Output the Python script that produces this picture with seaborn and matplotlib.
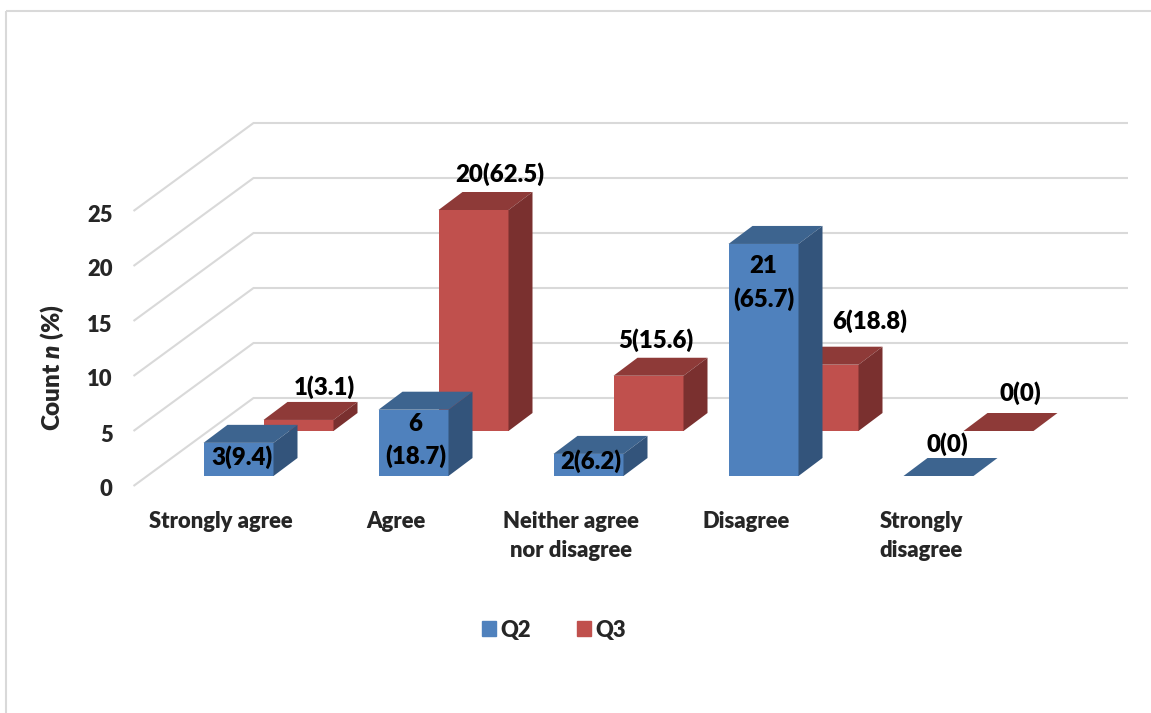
import matplotlib
matplotlib.use('agg')
import matplotlib.pyplot as plt
import numpy as np
import pandas as pd
import seaborn as sns
from matplotlib.patches import Patch, Polygon, Rectangle
from matplotlib.transforms import IdentityTransform, ScaledTranslation

categories = ['Strongly agree', 'Agree', 'Neither agree\nnor disagree', 'Disagree', 'Strongly\ndisagree']
q2_values = [3, 6, 2, 21, 0]
q3_values = [1, 20, 5, 6, 0]
q2_labels = ['3(9.4)', '6\n(18.7)', '2(6.2)', '21\n(65.7)', '0(0)']
q3_labels = ['1(3.1)', '20(62.5)', '5(15.6)', '6(18.8)', '0(0)']
y_ticks = [0, 5, 10, 15, 20, 25]

# label offsets from the top of each bar, pixels
q2_offsets = [(3, -14), (2, -31), (2, -7), (0, -39), (9, 32)]
q3_offsets = [(26, 33), (26, 36), (7, 36), (46, 44), (22, 38)]

W, H = 1151, 713
DEPTH = (24, 18)       # bar depth on screen
WALL = (120, 88)       # floor depth on screen
GRID = '#d9d9d9'
BLUE = {'front': '#4f81bd', 'top': '#3d648f', 'side': '#33547b'}
RED = {'front': '#c0504d', 'top': '#8e3a38', 'side': '#7a302f'}
WEIGHT = 800

sns.set_style('white')
plt.rcParams['font.family'] = ['Lato', 'DejaVu Sans']
plt.rcParams['font.weight'] = WEIGHT
plt.rcParams['mathtext.fontset'] = 'custom'
plt.rcParams['mathtext.bf'] = 'Lato:bold'
plt.rcParams['mathtext.bfit'] = 'Lato:italic:heavy'

FONT = 15.8
LABEL_FONT = 17.3


def px_axes(fig, left, bottom, width, height):
    return fig.add_axes([left / W, 1 - bottom / H, width / W, height / H])


def draw_bars(ax, df, series, colors, labels, offsets):
    sns.barplot(data=df[df.series == series], x='category', y='count', order=categories,
                color=colors['front'], saturation=1, width=0.4, linewidth=0, ax=ax, zorder=3)
    ax.set_xlim(-0.5, 4.5)
    ax.set_ylim(0, 25)
    ax.axis('off')
    ax.patch.set_alpha(0)
    dx, dy = DEPTH
    for bar in list(ax.patches):
        (x0, y0), (x1, y1) = ax.transData.transform(
            [(bar.get_x(), 0), (bar.get_x() + bar.get_width(), bar.get_height())])
        top = [(x0, y1), (x1, y1), (x1 + dx, y1 + dy), (x0 + dx, y1 + dy)]
        side = [(x1, y0), (x1, y1), (x1 + dx, y1 + dy), (x1 + dx, y0 + dy)]
        ax.add_patch(Polygon(top, transform=IdentityTransform(), color=colors['top'], lw=0, clip_on=False, zorder=3))
        if y1 > y0:
            ax.add_patch(Polygon(side, transform=IdentityTransform(), color=colors['side'], lw=0, clip_on=False, zorder=3))
    for i, bar in enumerate(ax.patches[:len(labels)]):
        ax.annotate(labels[i], (i, bar.get_height()), xytext=offsets[i], textcoords='offset pixels',
                    ha='center', va='center', fontsize=LABEL_FONT, fontweight=WEIGHT, color='black',
                    linespacing=1.5, annotation_clip=False, zorder=5)


def main():
    df = pd.DataFrame({
        'category': categories * 2,
        'series': ['Q2'] * len(q2_values) + ['Q3'] * len(q3_values),
        'count': q2_values + q3_values,
    })

    fig = plt.figure(figsize=(W / 100, H / 100), dpi=100, facecolor='white')

    # chart frame, runs off the right and bottom of the picture
    bg = fig.add_axes([0, 0, 1, 1])
    bg.set_xlim(0, W)
    bg.set_ylim(H, 0)
    bg.axis('off')
    bg.add_patch(Rectangle((6.5, 10.5), W, H, fill=False, edgecolor=GRID, lw=1.5))

    # front edge of the floor carries the axis scale
    wall = px_axes(fig, 133.5, 486, 875, 275)
    wall.set_xlim(-0.5, 4.5)
    wall.set_ylim(0, 25)
    wall.patch.set_alpha(0)
    sns.despine(ax=wall, left=True, bottom=True)
    wall.set_xticks(range(len(categories)))
    wall.set_xticklabels(categories, fontsize=FONT, fontweight=WEIGHT, linespacing=1.45)
    wall.set_yticks(y_ticks)
    wall.set_yticklabels(y_ticks, fontsize=FONT, fontweight=WEIGHT)
    wall.tick_params(axis='x', length=0, pad=18)
    wall.tick_params(axis='y', length=0, pad=15)
    nudge = ScaledTranslation(0, -2 / 100, fig.dpi_scale_trans)
    for lab in wall.get_yticklabels():
        lab.set_transform(lab.get_transform() + nudge)
    wall.set_ylabel(r'Count $\mathbfit{n}$ (%)', fontsize=17.5, fontweight=WEIGHT)
    wall.yaxis.set_label_coords((66 - 133.5) / 875, (486 - 368) / 275)

    x_front = wall.transData.transform((-0.5, 0))[0]
    for v in y_ticks:
        y_front = wall.transData.transform((0, v))[1]
        pts = [(x_front, y_front), (x_front + WALL[0], y_front + WALL[1]), (1128, y_front + WALL[1])]
        wall.add_patch(Polygon(pts, closed=False, fill=False, edgecolor=GRID, lw=1.5,
                               transform=IdentityTransform(), clip_on=False, zorder=1))

    # Q3 row sits behind Q2, shifted back along the floor
    q3_ax = px_axes(fig, 151 + 60, 476 - 45, 875, 276.25)
    draw_bars(q3_ax, df, 'Q3', RED, q3_labels, q3_offsets)
    q2_ax = px_axes(fig, 151, 476, 875, 276.25)
    draw_bars(q2_ax, df, 'Q2', BLUE, q2_labels, q2_offsets)

    handles = [Patch(color=BLUE['front'], label='Q2'), Patch(color=RED['front'], label='Q3')]
    fig.legend(handles=handles, loc='center', bbox_to_anchor=(554 / W, 1 - 630 / H), ncol=2, frameon=False,
               fontsize=FONT, handlelength=0.65, handleheight=0.65, handletextpad=0.2, columnspacing=2.1)

    fig.savefig('out.png', dpi=100, facecolor='white')


if __name__ == '__main__':
    main()
